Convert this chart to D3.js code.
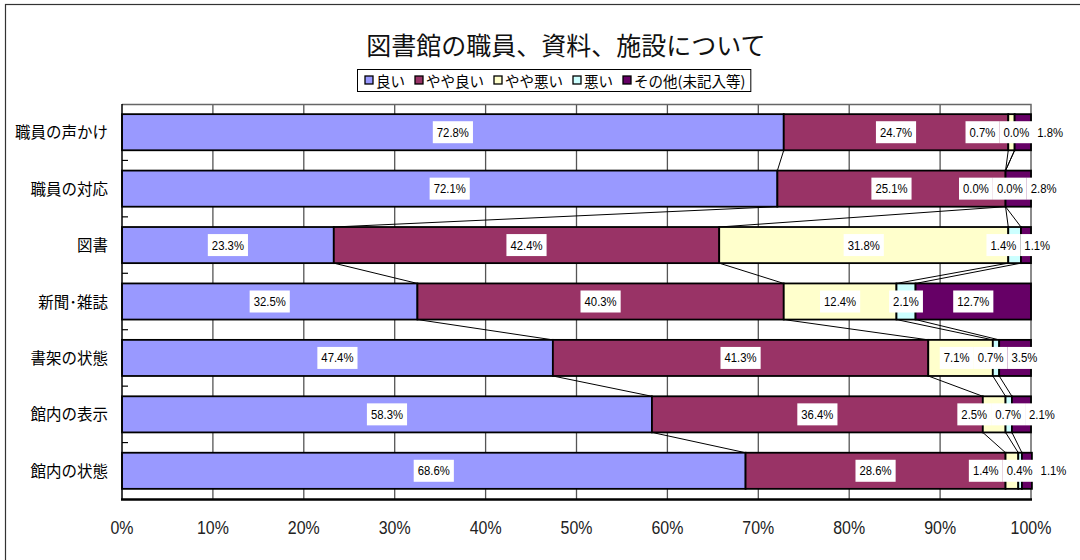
<!DOCTYPE html>
<html>
<head>
<meta charset="utf-8">
<script src="https://cdn.jsdelivr.net/npm/d3@7"></script>
<style>
  body { margin: 0; background: #fff; }
  svg { display: block; }
</style>
</head>
<body>
<div id="chart"></div>
<script>
(function() {
    const categories = ['職員の声かけ', '職員の対応', '図書', '新聞･雑誌', '書架の状態', '館内の表示', '館内の状態'];
    const seriesNames = ['良い', 'やや良い', 'やや悪い', '悪い', 'その他(未記入等)'];
    const good     = [72.8, 72.1, 23.3, 32.5, 47.4, 58.3, 68.6];
    const ratherGood = [24.7, 25.1, 42.4, 40.3, 41.3, 36.4, 28.6];
    const ratherBad  = [0.7, 0.0, 31.8, 12.4, 7.1, 2.5, 1.4];
    const bad      = [0.0, 0.0, 1.4, 2.1, 0.7, 0.7, 0.4];
    const other    = [1.8, 2.8, 1.1, 12.7, 3.5, 2.1, 1.1];
    const xTicks = [0, 10, 20, 30, 40, 50, 60, 70, 80, 90, 100];

    const width = 1080, height = 560;
    const colors = ['#9999ff', '#993366', '#ffffcc', '#ccffff', '#660066'];
    const jp = '"Noto Sans CJK JP", sans-serif';
    const num = '"Liberation Sans", Arial, sans-serif';
    const squeeze = 0.84;

    const values = [good, ratherGood, ratherBad, bad, other];
    const rows = categories.map((c, i) => {
      const r = { cat: c };
      seriesNames.forEach((s, j) => r[s] = values[j][i]);
      return r;
    });
    const stacked = d3.stack().keys(seriesNames)(rows);

    const svg = d3.select('#chart').append('svg')
      .attr('width', width)
      .attr('height', height);

    // chart frame
    svg.append('rect').attr('x', 5.5).attr('y', 4.5).attr('width', 1090).attr('height', 600)
      .attr('fill', 'none').attr('stroke', '#333').attr('stroke-width', 1.2);

    const x = d3.scaleLinear().domain([0, 100]).range([122, 1031]);
    const y = d3.scaleBand().domain(categories).range([104, 499]).paddingInner(0.36).paddingOuter(0.18);

    // gridlines
    svg.append('g').selectAll('line').data(xTicks.slice(1, -1)).join('line')
      .attr('x1', d => x(d)).attr('x2', d => x(d))
      .attr('y1', 104).attr('y2', 499)
      .attr('stroke', '#555').attr('stroke-width', 1.3);

    // plot border top/right
    svg.append('path')
      .attr('d', `M${x(0)},104.5H${x(100)}V499`)
      .attr('fill', 'none').attr('stroke', '#666').attr('stroke-width', 1.5);

    // series lines
    const lines = [];
    for (let s = 0; s < 4; s++) {
      for (let i = 0; i < categories.length - 1; i++) {
        lines.push({
          x1: x(stacked[s][i][1]), y1: y(categories[i]) + y.bandwidth(),
          x2: x(stacked[s][i + 1][1]), y2: y(categories[i + 1])
        });
      }
    }
    svg.append('g').selectAll('line').data(lines).join('line')
      .attr('x1', d => d.x1).attr('y1', d => d.y1)
      .attr('x2', d => d.x2).attr('y2', d => d.y2)
      .attr('stroke', '#000').attr('stroke-width', 1);

    // bars
    svg.append('g').selectAll('g').data(stacked).join('g')
      .attr('fill', (d, i) => colors[i])
      .selectAll('rect').data(d => d).join('rect')
        .attr('x', d => x(d[0]))
        .attr('y', d => y(d.data.cat))
        .attr('width', d => x(d[1]) - x(d[0]))
        .attr('height', y.bandwidth())
        .attr('stroke', '#000')
        .attr('stroke-width', 1.8);

    // axes
    svg.append('line').attr('x1', x(0)).attr('x2', x(0)).attr('y1', 104).attr('y2', 500)
      .attr('stroke', '#000').attr('stroke-width', 1.5);
    svg.append('line').attr('x1', x(0) - 1).attr('x2', x(100) + 1).attr('y1', 499.5).attr('y2', 499.5)
      .attr('stroke', '#000').attr('stroke-width', 2.5);

    // category boundary ticks
    const step = y.step();
    svg.append('g').selectAll('line').data(d3.range(1, categories.length)).join('line')
      .attr('x1', x(0)).attr('x2', x(0) + 6)
      .attr('y1', d => 104 + d * step).attr('y2', d => 104 + d * step)
      .attr('stroke', '#000').attr('stroke-width', 1.2);

    // x tick labels (narrow look)
    svg.append('g').selectAll('text').data(xTicks).join('text')
      .attr('transform', d => `translate(${x(d)},534) scale(${squeeze},1)`)
      .attr('text-anchor', 'middle')
      .attr('font-family', num).attr('font-size', 19).attr('fill', '#222')
      .text(d => d + '%');

    // category labels
    svg.append('g').selectAll('text').data(categories).join('text')
      .attr('x', 108).attr('y', d => y(d) + y.bandwidth() / 2 + 6)
      .attr('text-anchor', 'end')
      .attr('font-family', jp).attr('font-size', 15.5).attr('fill', '#000')
      .text(d => d);

    // data labels with simple overlap resolution
    const labelG = svg.append('g');
    categories.forEach((c, i) => {
      const cy = y(c) + y.bandwidth() / 2;
      const items = stacked.map(s => {
        const t = labelG.append('text')
          .attr('font-family', num).attr('font-size', 13.5)
          .attr('text-anchor', 'middle').attr('fill', '#000')
          .text(s[i].data[s.key].toFixed(1) + '%');
        const w = t.node().getComputedTextLength() * squeeze + 8;
        return { t, w, want: x((s[i][0] + s[i][1]) / 2) };
      });
      let clusters = items.map(it => ({ items: [it], w: it.w, sum: it.want }));
      const place = cl => cl.sum / cl.items.length - cl.w / 2;
      let merged = true;
      while (merged) {
        merged = false;
        for (let k = 0; k < clusters.length - 1; k++) {
          const a = clusters[k], b = clusters[k + 1];
          if (place(a) + a.w > place(b)) {
            clusters.splice(k, 2, { items: a.items.concat(b.items), w: a.w + b.w, sum: a.sum + b.sum });
            merged = true;
            break;
          }
        }
      }
      clusters.forEach(cl => {
        let left = place(cl);
        cl.items.forEach(it => {
          const cx = left + it.w / 2;
          labelG.insert('rect', () => it.t.node())
            .attr('x', left).attr('y', cy - 11)
            .attr('width', it.w).attr('height', 22)
            .attr('fill', '#fff');
          it.t.attr('transform', `translate(${cx},${cy + 4.5}) scale(${squeeze},1)`);
          left += it.w;
        });
      });
    });

    // title
    svg.append('text').attr('x', 566).attr('y', 55)
      .attr('text-anchor', 'middle')
      .attr('font-family', jp).attr('font-size', 25).attr('fill', '#111')
      .text('図書館の職員、資料、施設について');

    // legend
    const legend = svg.append('g');
    const box = legend.append('rect').attr('x', 357.5).attr('y', 69.5).attr('height', 22)
      .attr('fill', '#fff').attr('stroke', '#000').attr('stroke-width', 1);
    let lx = 365;
    seriesNames.forEach((s, i) => {
      legend.append('rect').attr('x', lx).attr('y', 76).attr('width', 8).attr('height', 8)
        .attr('fill', colors[i]).attr('stroke', '#000').attr('stroke-width', 1.3);
      const t = legend.append('text').attr('x', lx + 11).attr('y', 86.5)
        .attr('font-family', jp).attr('font-size', 14.5).attr('fill', '#000').text(s);
      lx += 11 + t.node().getComputedTextLength() + 10;
    });
    box.attr('width', lx - 357 - 5);
})();
</script>
</body>
</html>
